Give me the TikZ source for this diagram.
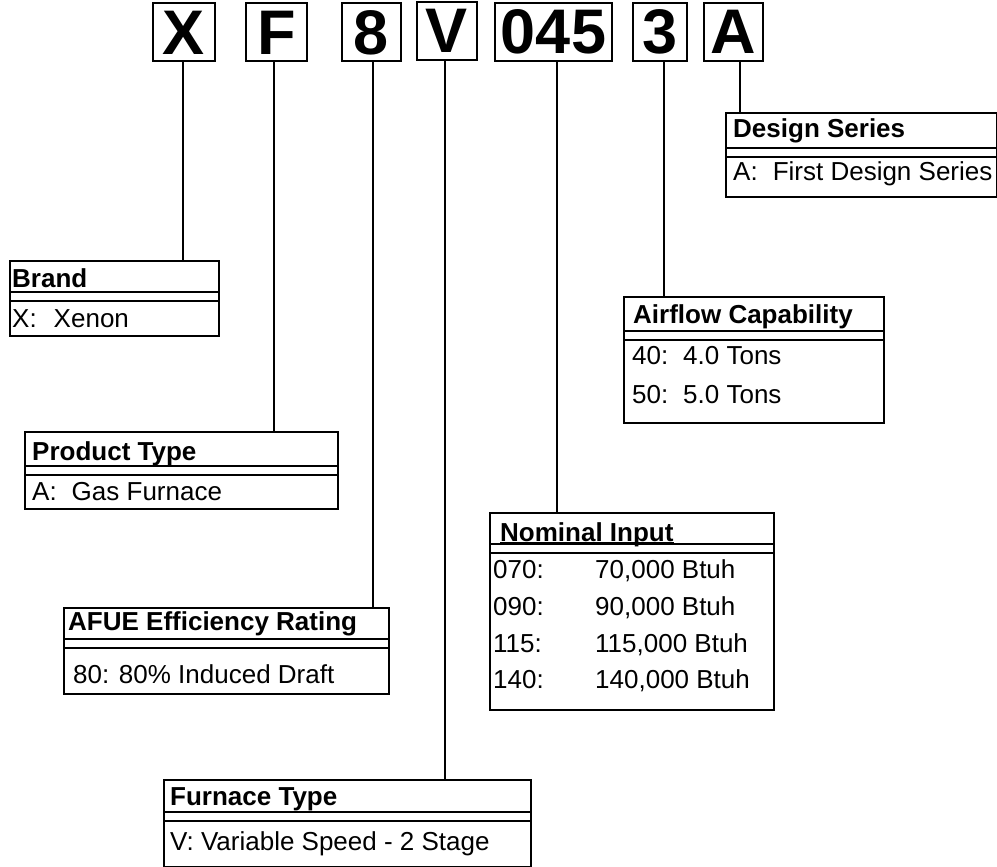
\documentclass[tikz,border=0pt]{standalone}
\usepackage{fontspec}
\setmainfont{Liberation Sans}
\usetikzlibrary{calc}

\begin{document}
\begin{tikzpicture}[x=1pt,y=-1pt,
  letter/.style={draw,line width=2pt,inner sep=0pt,minimum height=58pt,
    font=\fontsize{63}{63}\selectfont\bfseries},
  infobox/.style={draw,line width=2pt,anchor=north west,inner sep=0pt},
  head/.style={anchor=base west,inner sep=0pt,font=\fontsize{26}{26}\selectfont\bfseries},
  entry/.style={anchor=base west,inner sep=0pt,font=\fontsize{26}{26}\selectfont},
  sep/.style={line width=1.5pt},
  stem/.style={line width=2pt}]
\useasboundingbox (0,0) rectangle (997,867);

% model number
\node[letter,minimum width=62pt] (lX) at (184,32.5) {X};
\node[letter,minimum width=61pt] (lF) at (276.5,32.5) {F};
\node[letter,minimum width=59pt] (l8) at (371.5,32.5) {8};
\node[letter,minimum width=60pt] (lV) at (447,31) {V};
\node[letter,minimum width=117pt] (l045) at (553.5,32) {045};
\node[letter,minimum width=54pt] (l3) at (660,32) {3};
\node[letter,minimum width=59pt] (lA) at (733.5,32) {A};

% boxes
\node[infobox,minimum width=209pt,minimum height=75pt] (brand) at (9,260) {};
\node[infobox,minimum width=313pt,minimum height=77pt] (ptype) at (24,431) {};
\node[infobox,minimum width=325pt,minimum height=86pt] (afue) at (63,607) {};
\node[infobox,minimum width=367pt,minimum height=87pt] (ftype) at (163,779) {};
\node[infobox,minimum width=284pt,minimum height=197pt] (input) at (489,512) {};
\node[infobox,minimum width=260pt,minimum height=126pt] (airflow) at (623,296) {};
\node[infobox,minimum width=271pt,minimum height=84pt] (design) at (725,112) {};

\foreach \b/\d/\e in {brand/32pt/41pt, ptype/35pt/44pt, afue/32pt/41pt, ftype/33pt/42pt,
    input/32pt/41pt, airflow/35pt/44pt, design/36pt/45pt}
  \draw[sep] ([yshift=-\d]\b.north west) -- ([yshift=-\d]\b.north east)
    ([yshift=-\e]\b.north west) -- ([yshift=-\e]\b.north east);

% headers
\node[head] (brandh) at (12,287) {Brand};
\node[head] (ptypeh) at (32,460) {Product Type};
\node[head] (afueh) at (68,630) {AFUE Efficiency Rating};
\node[head] (ftypeh) at (170,805) {Furnace Type};
\node[head] (inputh) at (500,541) {Nominal Input};
\draw[sep] ([yshift=-1.5pt]inputh.base west) -- ([yshift=-1.5pt]inputh.base east);
\node[head] (airflowh) at (633,323) {Airflow Capability};
\node[head] (designh) at (733,138) {Design Series};

% entries
\node[entry] at (12,327) {X:\hspace{17pt}Xenon};
\node[entry] at (32,500) {A:\hspace{15pt}Gas Furnace};
\node[entry] at (73,683) {80: 80\% Induced Draft};
\node[entry] at (170,850) {V: Variable Speed - 2 Stage};
\foreach \c/\v/\y in {070/{70,000}/578, 090/{90,000}/615, 115/{115,000}/652, 140/{140,000}/688} {
  \node[entry] at (493,\y) {\c:};
  \node[entry] at (595,\y) {\v\ Btuh};
}
\node[entry] at (632,364) {40:};
\node[entry] at (683,364) {4.0 Tons};
\node[entry] at (632,403) {50:};
\node[entry] at (683,403) {5.0 Tons};
\node[entry] at (733,180) {A:\hspace{15pt}First Design Series};

% connectors
\foreach \l/\b/\x in {lX/brand/183, lF/ptype/274, l8/afue/373, lV/ftype/445,
    l045/input/557, l3/airflow/664, lA/design/740}
  \draw[stem] (\l.south -| \x,0) -- (\b.north -| \x,0);
\end{tikzpicture}
\end{document}
